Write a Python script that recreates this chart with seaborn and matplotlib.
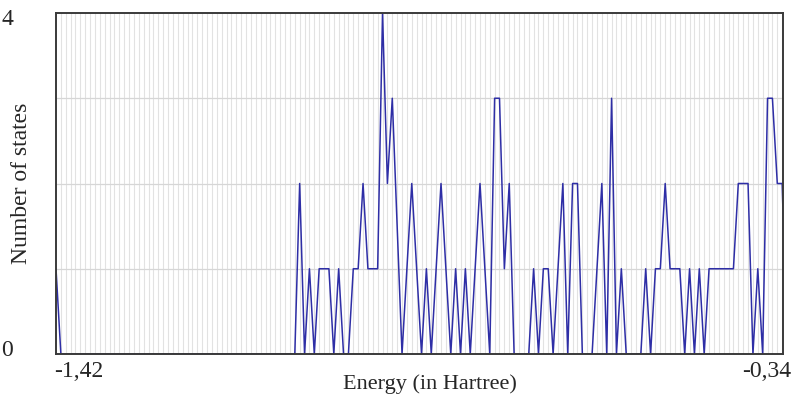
import numpy as np
import pandas as pd
import matplotlib
matplotlib.use("Agg")
import matplotlib.pyplot as plt
import matplotlib.transforms as mtransforms
import seaborn as sns

# --- DATA ---
e_start = -1.42          # first bin, Hartree
e_step = 0.00724         # bin width, Hartree
counts = ([1] + [0] * 49 +
          [2, 0, 1, 0, 1, 1, 1, 0, 1, 0, 0, 1, 1, 2, 1, 1, 1,
           4, 2, 3, 1.5, 0, 1, 2, 1, 0, 1, 0, 1, 2, 1, 0, 1, 0, 1, 0, 1, 2, 1, 0,
           3, 3, 1, 2, 0, 0, 0, 0, 1, 0, 1, 1, 0, 1, 2, 0, 2, 2, 0, 0, 0, 1, 2, 0,
           3, 0, 1, 0, 0, 0, 0, 1, 0, 1, 1, 2, 1, 1, 1, 0, 1, 0, 1, 0,
           1, 1, 1, 1, 1, 1, 2, 2, 2, 0, 1, 0, 3, 3, 2, 2, 0])
x_ticks = [-1.42, -0.34]
x_tick_labels = ["-1,42", "-0,34"]
y_ticks = [0, 4]
y_tick_labels = ["0", "4"]

energy = e_start + e_step * np.arange(len(counts))
df = pd.DataFrame({"energy": energy, "states": counts})

# --- PLOT ---
sns.set_style("white")
plt.rcParams['font.family'] = ['Liberation Serif', 'DejaVu Serif']

fig = plt.figure(figsize=(8.04, 4.03), dpi=100)
ax = fig.add_axes([56 / 804, 1 - 354 / 403, 727 / 804, 341 / 403])

# bin grid (vertical) and level grid (horizontal)
ax.set_xticks(energy, minor=True)
ax.set_yticks([1, 2, 3], minor=True)
ax.grid(which='minor', axis='x', color='#e2e2e2', linewidth=0.8)
ax.grid(which='minor', axis='y', color='#d6d6d6', linewidth=0.9)
ax.set_axisbelow(True)

sns.lineplot(data=df, x="energy", y="states", color='#2e2ea6',
             linewidth=1.1, ax=ax)

ax.set_xlim(-1.42, -0.34)
ax.set_ylim(0, 4)

for side in ax.spines.values():
    side.set_color('#3a3a3a')
    side.set_linewidth(1.4)

ax.set_xticks(x_ticks)
ax.set_xticklabels(x_tick_labels, fontsize=17)
ax.set_yticks(y_ticks)
ax.set_yticklabels(y_tick_labels, fontsize=17)
ax.tick_params(which='both', length=0)
ax.tick_params(axis='x', pad=5)
ax.tick_params(axis='y', pad=31)

# nudge the tick labels like the original (pixels)
def nudge(label, dx, dy):
    label.set_transform(label.get_transform() +
                        mtransforms.ScaledTranslation(dx / 100, dy / 100, fig.dpi_scale_trans))

for lab, dx in zip(ax.get_xticklabels(), [23, -16]):
    nudge(lab, dx, 0)
for lab, dy in zip(ax.get_yticklabels(), [6, -4]):
    nudge(lab, 0, dy)

ax.set_xlabel("Energy (in Hartree)", fontsize=16)
ax.set_ylabel("Number of states", fontsize=17)
ax.xaxis.set_label_coords(0.514, -0.058)
ax.yaxis.set_label_coords(-0.033, 0.5)

fig.savefig("out.png", dpi=100)
